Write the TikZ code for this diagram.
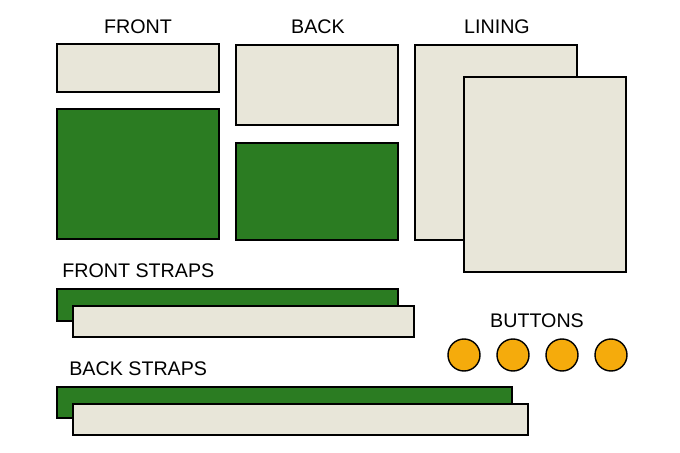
\documentclass[tikz,border=0pt]{standalone}
\usepackage{fontspec}
\setmainfont{Liberation Sans}
\usetikzlibrary{calc}
\definecolor{FabricClr}{HTML}{E8E6D9}
\definecolor{GreenClr}{HTML}{2B7C22}
\definecolor{ButtonClr}{HTML}{F5AB0C}

\begin{document}
\begin{tikzpicture}[x=0.02cm,y=-0.02cm,
  piece/.style={draw=black,line width=0.8pt},
  lining/.style={piece,fill=FabricClr},
  outer/.style={piece,fill=GreenClr},
  button/.style={piece,fill=ButtonClr},
  title/.style={inner sep=0pt,font=\fontsize{11.2}{13}\selectfont}]

% Bounding box of the picture.
\useasboundingbox (0,0) rectangle (680,453);

% Front.
\node[title] (front) at (138,27) {FRONT};
\draw[lining] (57,44) rectangle (219,92);
\draw[outer] (57,109) rectangle (219,239);

% Back.
\node[title] (back) at (318,27) {BACK};
\draw[lining] (236,45) rectangle (398,125);
\draw[outer] (236,143) rectangle (398,240);

% Lining.
\node[title] (lining) at (497,27) {LINING};
\draw[lining] (415,45) rectangle (577,240);
\draw[lining] (464,77) rectangle (626,272);

% Front straps.
\node[title,anchor=west] (frontstraps) at (62,271) {FRONT STRAPS};
\draw[outer] (57,289) rectangle (398,321);
\draw[lining] (73,306) rectangle (414,337);

% Back straps.
\node[title,anchor=west] (backstraps) at (69,369) {BACK STRAPS};
\draw[outer] (57,387) rectangle (512,418);
\draw[lining] (73,404) rectangle (528,435);

% Buttons.
\node[title] (buttons) at (537,321) {BUTTONS};
\foreach \x in {464,513,562,611}
  \draw[button] (\x,355) circle (16);

\end{tikzpicture}
\end{document}
